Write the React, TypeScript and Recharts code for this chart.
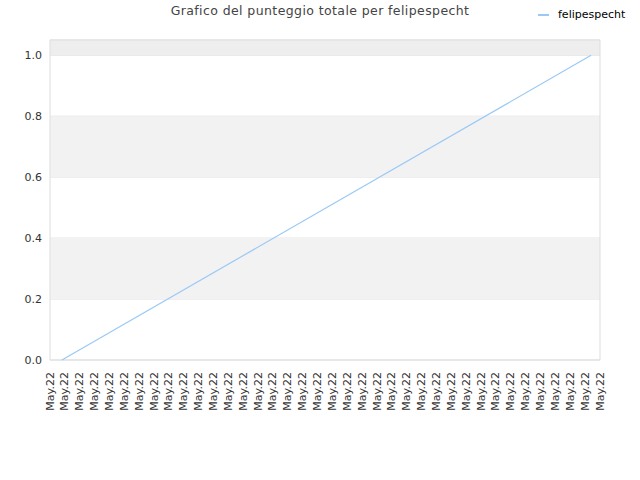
import React from 'react';
import { LineChart, Line, XAxis, YAxis, CartesianGrid, ReferenceArea } from 'recharts';

const xLabels = [
  'May.22', 'May.22', 'May.22', 'May.22', 'May.22', 'May.22', 'May.22', 'May.22',
  'May.22', 'May.22', 'May.22', 'May.22', 'May.22', 'May.22', 'May.22', 'May.22',
  'May.22', 'May.22', 'May.22', 'May.22', 'May.22', 'May.22', 'May.22', 'May.22',
  'May.22', 'May.22', 'May.22', 'May.22', 'May.22', 'May.22', 'May.22', 'May.22',
  'May.22', 'May.22', 'May.22', 'May.22', 'May.22', 'May.22',
];
const xTicks = xLabels.map((_, i) => i);

// the series: position along the time axis and total score
const scoreX = [0.8, 36.4];
const scoreY = [0, 1];

const yTicks = [0, 0.2, 0.4, 0.6, 0.8, 1.0];
const seriesName = 'felipespecht';

const data = scoreX.map((x, i) => ({ x, score: scoreY[i] }));

const FONT = '"DejaVu Sans", Verdana, sans-serif';
const LINE_COLOR = '#9ac9f5';

const DateTick = ({ x, payload }: any) => (
  <g transform={`translate(${x},372)`}>
    <text transform="rotate(-90)" textAnchor="end" dominantBaseline="central" fontSize={11} fill="#333" fontFamily={FONT}>
      {xLabels[payload.value]}
    </text>
  </g>
);

export default function App() {
  return (
    <div style={{ position: 'absolute', left: 0, top: 0, width: 640, height: 480, background: '#fff' }}>
      <div
        style={{
          position: 'absolute', top: 3, left: 0, width: 640, textAlign: 'center',
          fontFamily: FONT, fontSize: 12.5, color: '#444', letterSpacing: 0.4,
        }}
      >
        Grafico del punteggio totale per felipespecht
      </div>
      <div
        style={{
          position: 'absolute', top: 8, left: 538, display: 'flex', alignItems: 'center',
          fontFamily: FONT, fontSize: 11, color: '#000',
        }}
      >
        <span style={{ display: 'inline-block', width: 11, height: 2, background: LINE_COLOR, marginRight: 9 }} />
        {seriesName}
      </div>
      <LineChart width={640} height={480} data={data} margin={{ top: 40, right: 40, left: 0, bottom: 0 }}>
        <ReferenceArea x1={0} x2={37} y1={1.0} y2={1.05} fill="#eeeeee" fillOpacity={1} stroke="none" />
        <ReferenceArea x1={0} x2={37} y1={0.6} y2={0.8} fill="#f2f2f2" fillOpacity={1} stroke="none" />
        <ReferenceArea x1={0} x2={37} y1={0.2} y2={0.4} fill="#f2f2f2" fillOpacity={1} stroke="none" />
        <CartesianGrid vertical={false} stroke="#e2e2e2" />
        <ReferenceArea x1={0} x2={37} y1={0} y2={1.05} fill="none" stroke="#dddddd" />
        <XAxis
          dataKey="x"
          type="number"
          domain={[0, 37]}
          ticks={xTicks}
          interval={0}
          height={120}
          axisLine={false}
          tickLine={false}
          tick={<DateTick />}
        />
        <YAxis
          type="number"
          domain={[0, 1.05]}
          ticks={yTicks}
          width={50}
          axisLine={false}
          tickLine={false}
          tickFormatter={(v) => v.toFixed(1)}
          tick={{ fontSize: 11, fill: '#333', fontFamily: FONT }}
        />
        <Line
          type="linear"
          dataKey="score"
          name={seriesName}
          stroke={LINE_COLOR}
          strokeWidth={1.2}
          dot={false}
          isAnimationActive={false}
        />
      </LineChart>
    </div>
  );
}
